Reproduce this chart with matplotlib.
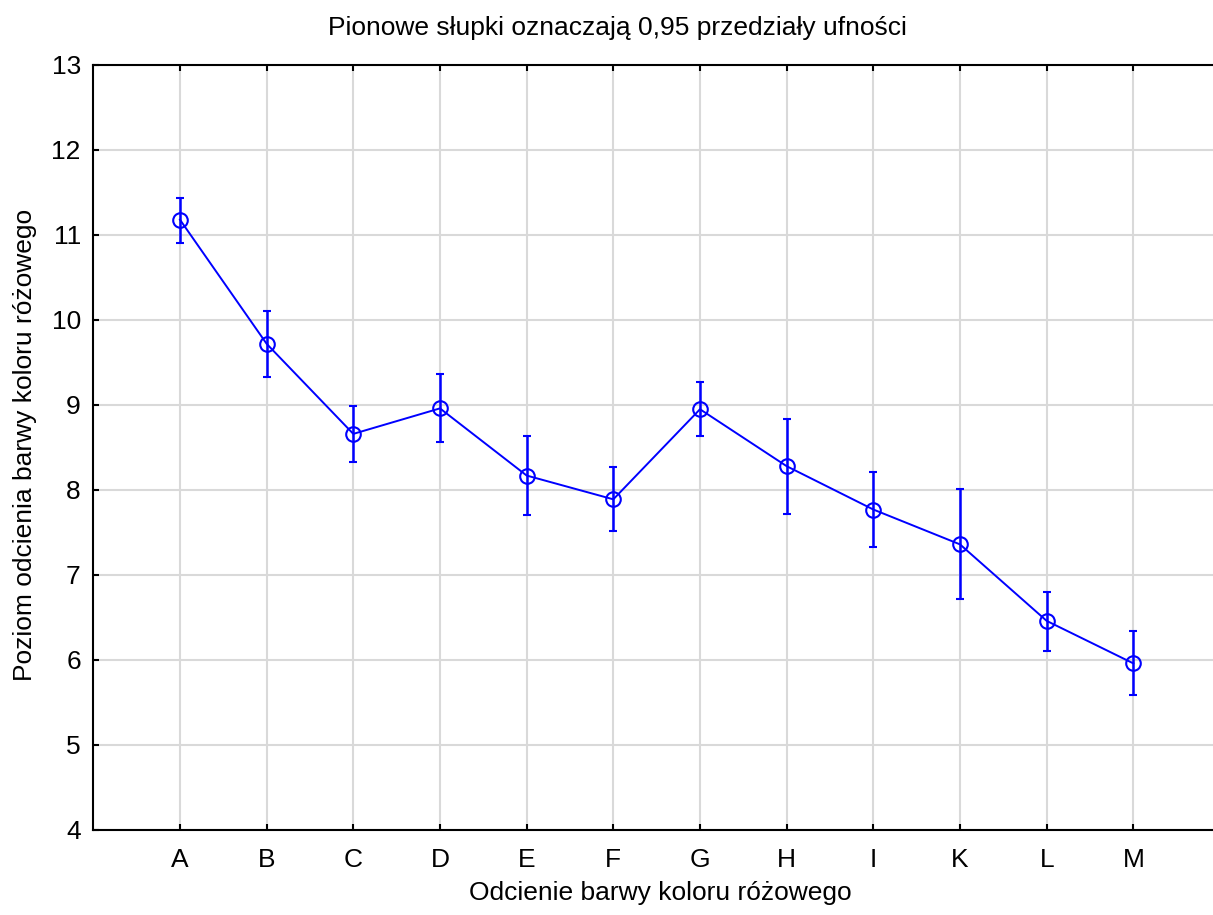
import numpy as np
import matplotlib
matplotlib.use("Agg")
import matplotlib.pyplot as plt

plt.rcParams['font.family'] = ['Liberation Sans', 'DejaVu Sans']

# means with 0.95 confidence limits
shades = ['A', 'B', 'C', 'D', 'E', 'F', 'G', 'H', 'I', 'K', 'L', 'M']
means = [11.18, 9.72, 8.66, 8.96, 8.17, 7.89, 8.95, 8.28, 7.77, 7.36, 6.46, 5.96]
upper = [11.44, 10.11, 8.99, 9.36, 8.63, 8.27, 9.27, 8.83, 8.21, 8.01, 6.80, 6.34]
lower = [10.91, 9.33, 8.33, 8.56, 7.71, 7.52, 8.63, 7.72, 7.33, 6.72, 6.11, 5.59]

means = np.array(means)
err = [means - np.array(lower), np.array(upper) - means]
x = np.arange(len(shades))

fs = 19

fig = plt.figure(figsize=(12.13, 9.15), dpi=100)
ax = fig.add_axes([0.0769, 0.0929, 0.9289, 0.8361])

ax.errorbar(x, means, yerr=err, color='#0000ff', lw=1.4, elinewidth=1.8,
            capsize=3, capthick=1.8, marker='o', ms=10.5, mfc='none',
            mec='#0000ff', mew=1.5, zorder=3)

ax.set_xlim(-1, 12)
ax.set_ylim(4, 13)
ax.set_xticks(x)
ax.set_xticklabels(shades)
ax.set_yticks(range(4, 14))
ax.grid(True, color='#d9d9d9', lw=1.5)
ax.set_axisbelow(True)

for s in ['left', 'bottom', 'top']:
    ax.spines[s].set_linewidth(1.5)
ax.spines['right'].set_visible(False)
ax.tick_params(axis='x', direction='in', length=4, width=1.5, top=True,
               labelsize=fs, pad=13)
ax.tick_params(axis='y', direction='in', length=4, width=1.5,
               labelsize=fs, pad=9)

fig.text(0.509, 1 - 28 / 915, 'Pionowe słupki oznaczają 0,95 przedziały ufności',
         ha='center', va='center', fontsize=fs)
fig.text(0.544, 1 - 893 / 915, 'Odcienie barwy koloru różowego',
         ha='center', va='center', fontsize=fs)
fig.text(25 / 1213, 1 - 445 / 915, 'Poziom odcienia barwy koloru różowego',
         ha='center', va='center', rotation=90, fontsize=fs)

fig.savefig('out.png', dpi=100)
